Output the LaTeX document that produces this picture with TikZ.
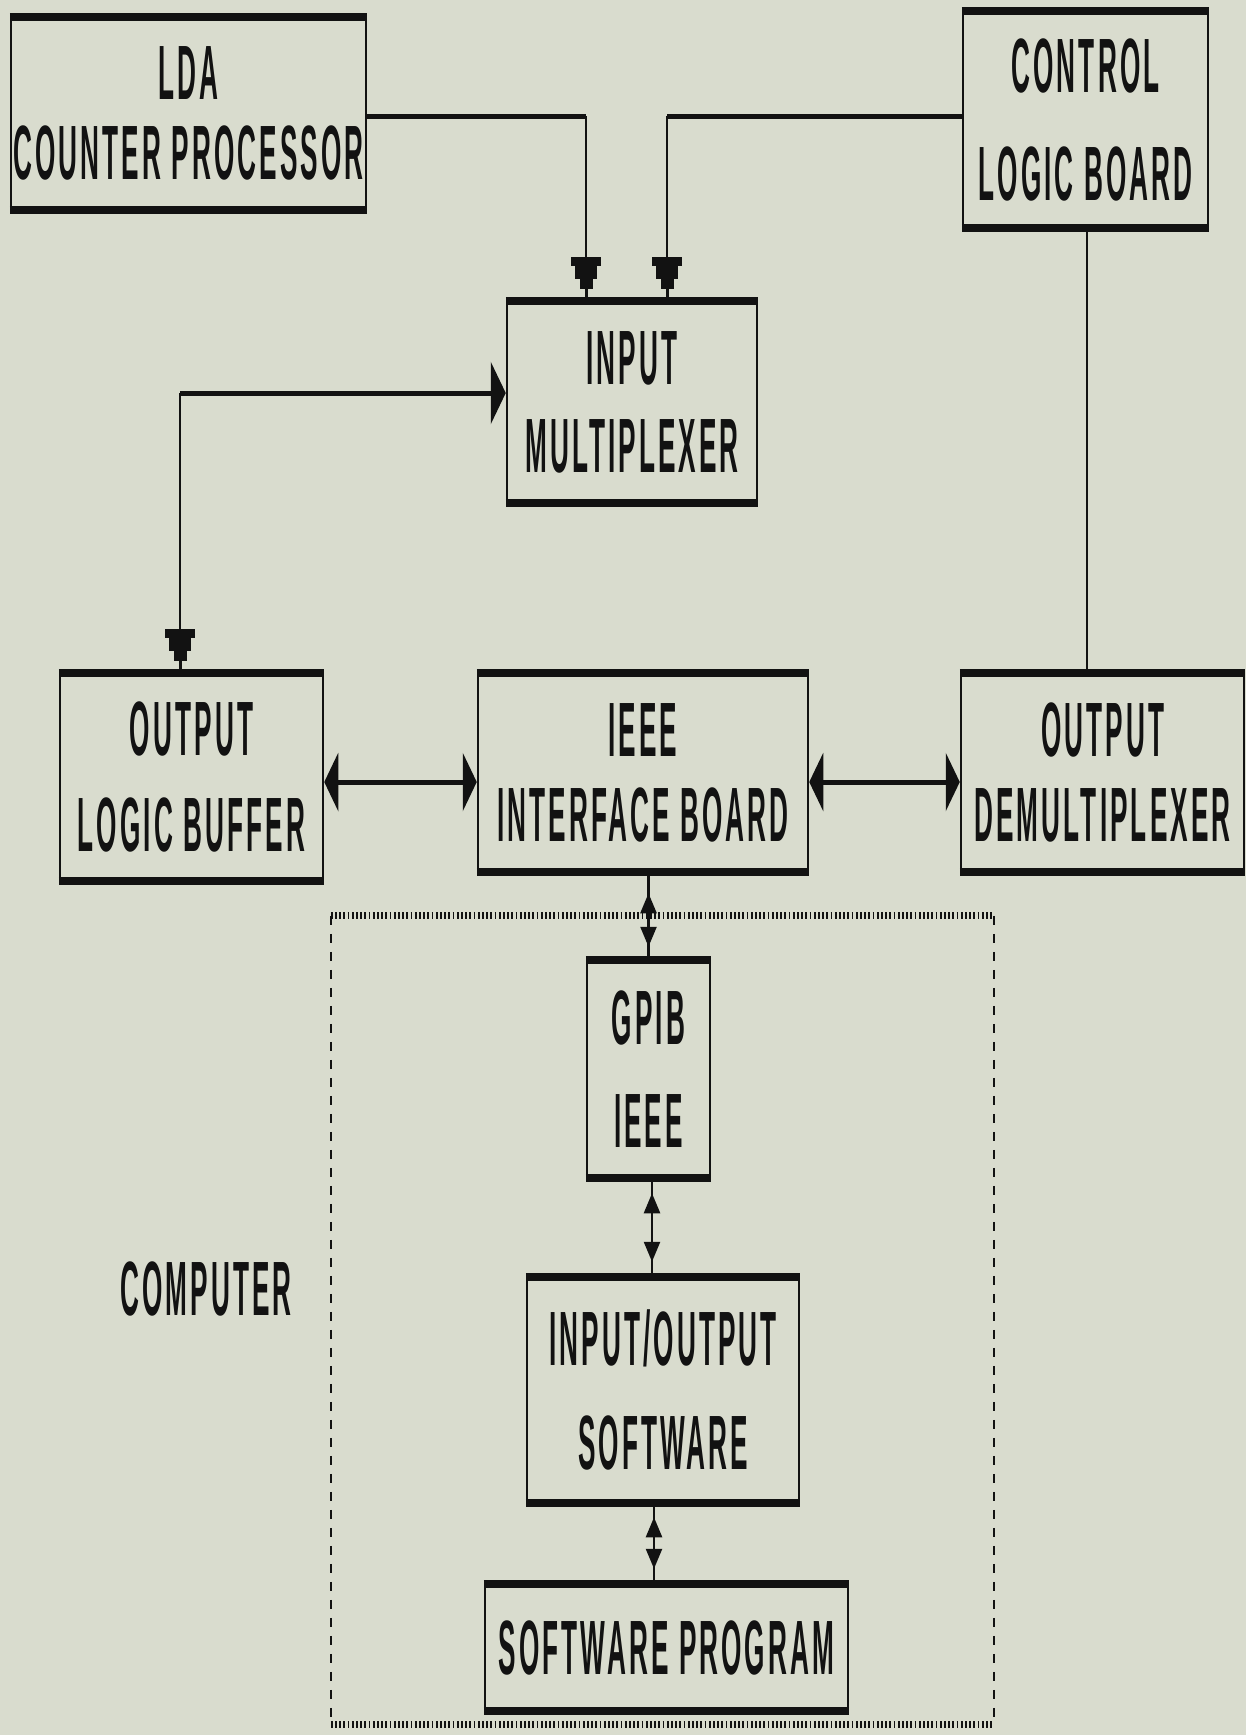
\documentclass[tikz,border=0pt]{standalone}
\usepackage{fontspec}
\newfontfamily\pix{Liberation Sans}[FakeStretch=0.34,LetterSpace=4]
\usetikzlibrary{arrows.meta,calc}
\definecolor{paper}{RGB}{217,220,206}
\definecolor{ink}{RGB}{18,18,18}
\newcommand\boxbars[1]{%
  \draw[hbar] ([yshift=-3pt]#1.north west) -- ([yshift=-3pt]#1.north east);
  \draw[hbar] ([yshift=3pt]#1.south west) -- ([yshift=3pt]#1.south east);}
\begin{document}
\begin{tikzpicture}[x=1pt,y=-1pt,
  blk/.style={draw=ink, line width=2.5pt, rectangle, inner sep=0pt, align=center, text=ink,
    font=\pix\bfseries\fontsize{77}{80}\selectfont},
  lbl/.style={inner sep=0pt, text=ink, font=\pix\bfseries\fontsize{77}{80}\selectfont},
  hbar/.style={line width=8pt, draw=ink},
  hwire/.style={line width=5pt, draw=ink},
  vwire/.style={line width=2.5pt, draw=ink},
  thinwire/.style={line width=1.6pt, draw=ink},
  vtip/.style={-{Rectangle[width=30pt,length=9pt,sep=0pt]Rectangle[width=22pt,length=13pt,sep=0pt]Rectangle[width=13pt,length=10pt,sep=0pt]Rectangle[width=3pt,length=9pt]}},
  htipin/.style={-{Triangle[width=62pt,length=15pt]}},
  htip/.style={{Triangle[width=58pt,length=14pt]}-{Triangle[width=58pt,length=14pt]}},
  stip/.style={{Triangle[width=16pt,length=20pt]}-{Triangle[width=16pt,length=20pt]}},
  dotrow/.style={draw=ink, line width=7pt, dash pattern=on 1.8pt off 2.4pt},
  dashside/.style={draw=ink, line width=1.8pt, dash pattern=on 9pt off 9pt},
]
\useasboundingbox (0,0) rectangle (1246,1735);
\fill[paper] (0,0) rectangle (1246,1735);

% boxes
\node[blk, minimum width=355pt, minimum height=197pt] (LDA) at (188.5,113.5) {LDA\\COUNTER PROCESSOR};
\node[blk, minimum width=245pt, minimum height=221pt] (CTRL) at (1085.5,119.5) {CONTROL\\[28pt]LOGIC BOARD};
\node[blk, minimum width=250pt, minimum height=206pt] (IM) at (632,402) {INPUT\\[8pt]MULTIPLEXER};
\node[blk, minimum width=263pt, minimum height=212pt] (OLB) at (191.5,777) {OUTPUT\\[16pt]LOGIC BUFFER};
\node[blk, minimum width=330pt, minimum height=203pt] (IEEE) at (643,772.5) {IEEE\\[5pt]INTERFACE BOARD};
\node[blk, minimum width=283pt, minimum height=203pt] (DEMUX) at (1102.5,772.5) {OUTPUT\\[5pt]DEMULTIPLEXER};
\node[blk, minimum width=123pt, minimum height=222pt] (GPIB) at (648.5,1069) {GPIB\\[23pt]IEEE};
\node[blk, minimum width=272pt, minimum height=230pt] (IO) at (663,1390) {INPUT/OUTPUT\\[24pt]SOFTWARE};
\node[blk, minimum width=363pt, minimum height=131pt] (SP) at (666.5,1647.5) {SOFTWARE PROGRAM};
\foreach \b in {LDA,CTRL,IM,OLB,IEEE,DEMUX,GPIB,IO,SP}{\boxbars{\b}}

% computer enclosure
\node[inner sep=0pt, minimum width=663pt, minimum height=808pt] (cbox) at (662.5,1320) {};
\draw[dotrow] (cbox.north west) -- (cbox.north east);
\draw[dotrow] (cbox.south west) -- (cbox.south east);
\draw[dashside] (cbox.north west) -- (cbox.south west);
\draw[dashside] (cbox.north east) -- (cbox.south east);
\node[lbl] (comp) at (206,1289) {COMPUTER};

% LDA -> input multiplexer
\draw[hwire] ([yshift=-2.5pt]LDA.east) -- ([xshift=-46pt,yshift=-2.5pt]IM.north |- LDA.east);
\draw[vwire, vtip] ([xshift=-46pt,yshift=-2.5pt]IM.north |- LDA.east) -- ([xshift=-46pt]IM.north);
% control -> input multiplexer
\draw[hwire] ([yshift=3.5pt]CTRL.west) -- ([xshift=35pt,yshift=3.5pt]IM.north |- CTRL.west);
\draw[vwire, vtip] ([xshift=35pt,yshift=3.5pt]IM.north |- CTRL.west) -- ([xshift=35pt]IM.north);
% control -> demultiplexer
\draw[thinwire] ([xshift=1.5pt]CTRL.south) -- ([xshift=1.5pt]CTRL.south |- DEMUX.north);
% output logic buffer <-> input multiplexer loop
\draw[hwire, htipin] ([xshift=-11.5pt,yshift=9pt]OLB.north |- IM.west) -- ([yshift=9pt]IM.west);
\draw[vwire, vtip] ([xshift=-11.5pt,yshift=9pt]OLB.north |- IM.west) -- ([xshift=-11.5pt]OLB.north);
% horizontal double arrows
\draw[hwire, htip] ([yshift=-5pt]OLB.east) -- ([yshift=-5pt]OLB.east -| IEEE.west);
\draw[hwire, htip] ([yshift=-9.5pt]IEEE.east) -- ([yshift=-9.5pt]IEEE.east -| DEMUX.west);
% computer internal links
\draw[vwire] (GPIB.north |- IEEE.south) -- (GPIB.north);
\draw[vwire, stip, shorten <=18pt, shorten >=10pt] (GPIB.north |- IEEE.south) -- (GPIB.north);
\draw[vwire] ([xshift=3.5pt]GPIB.south) -- ([xshift=3.5pt]GPIB.south |- IO.north);
\draw[vwire, stip, shorten <=12pt, shorten >=12pt] ([xshift=3.5pt]GPIB.south) -- ([xshift=3.5pt]GPIB.south |- IO.north);
\draw[vwire] ([xshift=-9pt]IO.south) -- ([xshift=-9pt]IO.south |- SP.north);
\draw[vwire, stip, shorten <=11pt, shorten >=12pt] ([xshift=-9pt]IO.south) -- ([xshift=-9pt]IO.south |- SP.north);
\end{tikzpicture}
\end{document}
